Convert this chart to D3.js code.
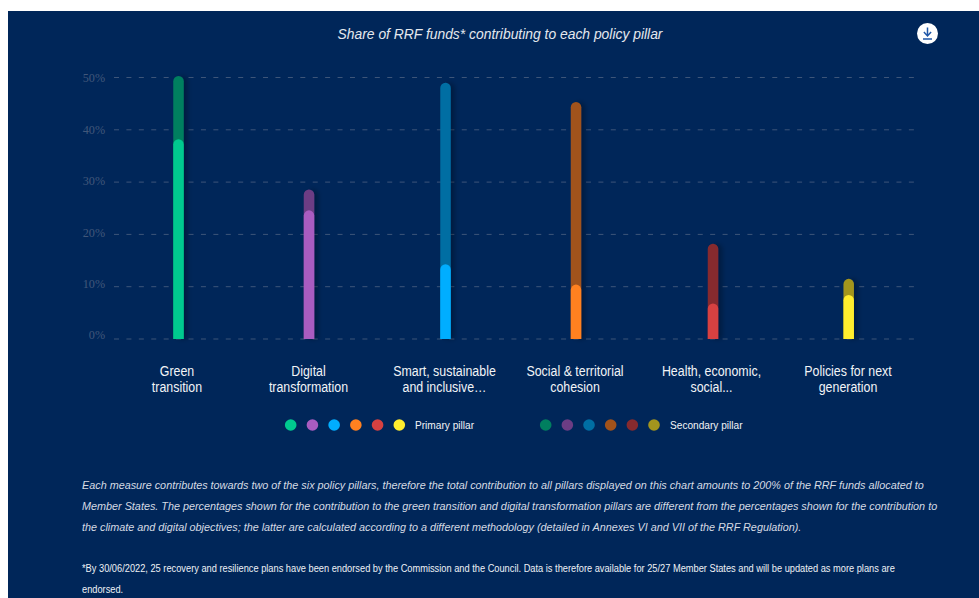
<!DOCTYPE html>
<html><head><meta charset="utf-8">
<script src="https://cdn.jsdelivr.net/npm/d3@7/dist/d3.min.js"></script>
<style>html,body{margin:0;padding:0;background:#fff;overflow:hidden}svg{display:block}text{font-family:"Liberation Sans",Arial,sans-serif}</style>
</head><body><svg id="c" width="979" height="598"></svg>
<script>
const categories=["Green transition","Digital transformation","Smart, sustainable and inclusive…","Social & territorial cohesion","Health, economic, social...","Policies for next generation"];
const categoryLines=[["Green","transition"],["Digital","transformation"],["Smart, sustainable","and inclusive…"],["Social & territorial","cohesion"],["Health, economic,","social..."],["Policies for next","generation"]];
const primaryValues=[38.2,24.6,14.3,10.4,6.8,8.4];
const secondaryValues=[50.3,28.6,49,45.3,18.2,11.5];
const primaryColors=["#00c98f","#a95cc0","#00aeff","#ff8120","#d64141","#ffed2e"];
const secondaryColors=["#007f5f","#6c3d84","#006ea3","#a1521a","#862a2e","#a3951e"];
const yTicks=[0,10,20,30,40,50];
const legendLabels=["Primary pillar","Secondary pillar"];
const titleText="Share of RRF funds* contributing to each policy pillar";
const noteLines=["Each measure contributes towards two of the six policy pillars, therefore the total contribution to all pillars displayed on this chart amounts to 200% of the RRF funds allocated to","Member States. The percentages shown for the contribution to the green transition and digital transformation pillars are different from the percentages shown for the contribution to","the climate and digital objectives; the latter are calculated according to a different methodology (detailed in Annexes VI and VII of the RRF Regulation)."];
const footLines=["*By 30/06/2022, 25 recovery and resilience plans have been endorsed by the Commission and the Council. Data is therefore available for 25/27 Member States and will be updated as more plans are","endorsed."];

const svg=d3.select("#c");
// narrows a text selection by a constant factor, keeping it real text
function condense(sel,k){
  sel.each(function(){
    const w=this.getComputedTextLength();
    d3.select(this).attr("textLength",w*k).attr("lengthAdjust","spacingAndGlyphs");
  });
  return sel;
}
const defs=svg.append("defs");
const f=defs.append("filter").attr("id","sh").attr("x","-100%").attr("width","300%").attr("y","-10%").attr("height","120%");
f.append("feDropShadow").attr("dx",4).attr("dy",0).attr("stdDeviation",2.5).attr("flood-color","#000").attr("flood-opacity",.28);

svg.append("rect").attr("x",8).attr("y",11).attr("width",971).attr("height",587).attr("fill","#002659");

const y=d3.scaleLinear().domain([0,50]).range([339,77.5]);
const yLabel=d3.scaleLinear().domain([0,50]).range([335,78]);
const xBar=d3.scaleOrdinal().domain(categories).range([178.5,309,445.5,576,713,848.7]);
const xLabel=d3.scaleOrdinal().domain(categories).range([177,308.5,444.5,575,711.5,848]);
const barW=10.5;

// grid + y axis
const yAxis=d3.axisLeft(y).tickValues(yTicks).tickFormat(d=>d+"%").tickSize(-800).tickPadding(9);
const ga=svg.append("g").attr("transform","translate(114,-0.5)").call(yAxis);
ga.select(".domain").remove();
ga.selectAll(".tick line").attr("stroke","#3d5579").attr("stroke-width",1).attr("stroke-dasharray","5 7.42");
ga.selectAll(".tick text").attr("fill","#41577a").attr("y",d=>yLabel(d)-y(d)).attr("dy","0.32em")
  .style("font-family","'Liberation Serif',serif").style("font-size","13.5px");
condense(ga.selectAll(".tick text"),.9);

function topRounded(x0,yTop,w,yBase){
  const r=w/2,p=d3.path();
  p.moveTo(x0,yBase);p.lineTo(x0,yTop+r);
  p.arc(x0+r,yTop+r,r,Math.PI,0);
  p.lineTo(x0+w,yBase);p.closePath();
  return p.toString();
}
const bars=svg.append("g").selectAll("g").data(categories).join("g");
bars.append("path").attr("d",(d,i)=>topRounded(xBar(d)-barW/2,y(secondaryValues[i]),barW,y(0)))
  .attr("fill",(d,i)=>secondaryColors[i]).attr("filter","url(#sh)");
bars.append("path").attr("d",(d,i)=>topRounded(xBar(d)-barW/2,y(primaryValues[i]),barW,y(0)))
  .attr("fill",(d,i)=>primaryColors[i]);

// category labels, one text per line
const catG=svg.append("g").selectAll("g").data(categories).join("g");
const catText=catG.selectAll("text").data((d,i)=>categoryLines[i].map(t=>({t,x:xLabel(d)}))).join("text")
  .attr("x",d=>d.x).attr("y",(d,i)=>375.5+i*16.5).attr("text-anchor","middle").attr("fill","#f2f4f7").style("font-size","14px").text(d=>d.t);
condense(catText,.885);

// title
condense(svg.append("text").attr("x",500).attr("y",39).attr("text-anchor","middle").attr("fill","#e4e8ee")
  .style("font-style","italic").style("font-size","14.5px").text(titleText),.956);

// download button
const dl=svg.append("g").attr("transform","translate(927.5,33.5)");
dl.append("circle").attr("r",10.5).attr("fill","#fff");
dl.append("path").attr("d","M0,-6V2M-3.6,-1.4L0,2.4L3.6,-1.4M-4.5,5.5H4.5").attr("fill","none").attr("stroke","#1f57a8").attr("stroke-width",1.5);

// legend
const legendPrimary=d3.scalePoint().domain(d3.range(6)).range([290.7,399.3]);
const legendSecondary=d3.scalePoint().domain(d3.range(6)).range([545.7,654]);
[[primaryColors,legendPrimary,415,legendLabels[0]],[secondaryColors,legendSecondary,670,legendLabels[1]]].forEach(([cols,sc,lx,lab])=>{
  const g=svg.append("g");
  g.selectAll("circle").data(cols).join("circle").attr("cx",(d,i)=>sc(i)).attr("cy",425).attr("r",5.8).attr("fill",d=>d);
  condense(g.append("text").attr("x",lx).attr("y",429).attr("fill","#f2f4f7").style("font-size","11.5px").text(lab),.88);
});

// notes
condense(svg.append("g").selectAll("text").data(noteLines).join("text")
  .attr("x",82).attr("y",(d,i)=>489+i*21).attr("fill","#d5dbe4").style("font-style","italic").style("font-size","11.3px").text(d=>d),.957);
condense(svg.append("g").selectAll("text").data(footLines).join("text")
  .attr("x",82).attr("y",(d,i)=>572+i*21).attr("fill","#eef1f5").style("font-size","10px").text(d=>d),.926);
</script></body></html>
